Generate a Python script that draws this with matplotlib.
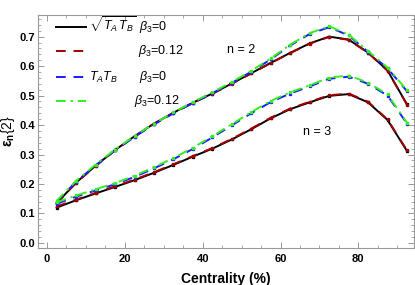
import matplotlib
matplotlib.use("Agg")
import matplotlib.pyplot as plt
from matplotlib.ticker import MultipleLocator

centrality = [2.5, 7.5, 12.5, 17.5, 22.5, 27.5, 32.5, 37.5, 42.5, 47.5,
              52.5, 57.5, 62.5, 67.5, 72.5, 77.5, 82.5, 87.5, 92.5]

# n = 2
e2_sqrt_b0 = [0.135, 0.205, 0.262, 0.315, 0.362, 0.405, 0.442, 0.476, 0.507, 0.541,
              0.576, 0.611, 0.645, 0.677, 0.700, 0.690, 0.646, 0.585, 0.470]
e2_sqrt_b12 = [0.134, 0.204, 0.261, 0.314, 0.361, 0.404, 0.441, 0.475, 0.506, 0.540,
               0.575, 0.610, 0.644, 0.676, 0.699, 0.689, 0.645, 0.584, 0.469]
e2_prod_b0 = [0.140, 0.208, 0.263, 0.314, 0.360, 0.402, 0.440, 0.475, 0.508, 0.543,
              0.581, 0.623, 0.670, 0.709, 0.732, 0.704, 0.648, 0.592, 0.515]
e2_prod_b12 = [0.143, 0.211, 0.266, 0.317, 0.363, 0.405, 0.443, 0.478, 0.511, 0.546,
               0.584, 0.626, 0.673, 0.712, 0.735, 0.707, 0.651, 0.595, 0.518]

# n = 3
e3_sqrt_b0 = [0.120, 0.145, 0.168, 0.190, 0.213, 0.238, 0.265, 0.293, 0.320, 0.351,
              0.386, 0.423, 0.454, 0.477, 0.499, 0.505, 0.477, 0.417, 0.312]
e3_sqrt_b12 = [0.124, 0.147, 0.170, 0.192, 0.215, 0.240, 0.267, 0.295, 0.322, 0.353,
               0.388, 0.425, 0.456, 0.479, 0.501, 0.507, 0.479, 0.419, 0.314]
e3_prod_b0 = [0.133, 0.157, 0.178, 0.199, 0.224, 0.253, 0.284, 0.319, 0.358, 0.399,
              0.440, 0.478, 0.507, 0.531, 0.557, 0.564, 0.540, 0.500, 0.405]
e3_prod_b12 = [0.138, 0.161, 0.182, 0.203, 0.228, 0.257, 0.288, 0.323, 0.362, 0.403,
               0.444, 0.482, 0.511, 0.535, 0.561, 0.568, 0.544, 0.504, 0.408]

legend_names = [r'$\sqrt{T_A\,T_B}$', ' ', r'$T_AT_B$', ' ']
beta_labels = [r'$\beta_3$=0', r'$\beta_3$=0.12', r'$\beta_3$=0', r'$\beta_3$=0.12']
beta_x = [0.268, 0.265, 0.268, 0.255]

BLACK = "#000000"
RED = "#a00000"
BLUE = "#1a1aff"
GREEN = "#33ee22"

plt.rcParams['font.family'] = ['Liberation Sans', 'DejaVu Sans']
plt.rcParams['mathtext.fontset'] = 'custom'
plt.rcParams['mathtext.it'] = 'Liberation Sans:italic'
plt.rcParams['mathtext.rm'] = 'Liberation Sans'
plt.rcParams['mathtext.bf'] = 'Liberation Sans:bold'

fig = plt.figure(figsize=(4.15, 2.85), dpi=100)
ax = fig.add_axes([0.0916, 0.13, 0.906, 0.817])

lw = 1.4
ms = 1.4
DASH = (0, (5, 4))
DASHDOT = (0, (5, 2.5, 1.2, 2.5))
h1, = ax.plot(centrality, e2_sqrt_b0, color=BLACK, lw=lw, marker='s', ms=ms)
h2, = ax.plot(centrality, e2_sqrt_b12, color=RED, lw=lw, ls=DASH, marker='s', ms=ms)
h3, = ax.plot(centrality, e2_prod_b0, color=BLUE, lw=lw, ls=DASH, marker='s', ms=ms)
h4, = ax.plot(centrality, e2_prod_b12, color=GREEN, lw=lw, ls=DASHDOT, marker='s', ms=ms)

ax.plot(centrality, e3_sqrt_b0, color=BLACK, lw=lw, marker='s', ms=ms)
ax.plot(centrality, e3_sqrt_b12, color=RED, lw=lw, ls=DASH, marker='s', ms=ms)
ax.plot(centrality, e3_prod_b0, color=BLUE, lw=lw, ls=DASH, marker='s', ms=ms)
ax.plot(centrality, e3_prod_b12, color=GREEN, lw=lw, ls=DASHDOT, marker='s', ms=ms)

ax.set_xlim(-2.3, 94.3)
ax.set_ylim(-0.017, 0.773)

ax.xaxis.set_major_locator(MultipleLocator(20))
ax.xaxis.set_minor_locator(MultipleLocator(5))
ax.yaxis.set_minor_locator(MultipleLocator(0.02))
ax.set_yticks([i / 10 for i in range(8)])
ax.set_yticklabels([f"{i/10:.1f}" for i in range(8)])

ax.tick_params(which='both', direction='in', top=True, right=True, color='#888888',
               labelsize=8)
ax.tick_params(axis='x', pad=4)
ax.tick_params(axis='y', pad=2)
ax.tick_params(which='major', length=4, width=0.6)
ax.tick_params(which='minor', length=2, width=0.5)
for lab in ax.get_xticklabels() + ax.get_yticklabels():
    lab.set_fontweight('bold')
for sp in ax.spines.values():
    sp.set_color('#999999')
    sp.set_linewidth(0.8)

ax.set_xlabel('Centrality (%)', fontsize=10, fontweight='bold', labelpad=6)
ax.set_ylabel(r'$\mathbf{\epsilon_n}$' + r'$\{2\}$', fontsize=10, fontweight='bold')
ax.yaxis.set_label_coords(-0.055, 0.5)

leg = ax.legend([h1, h2, h3, h4], legend_names, loc='upper left', frameon=False,
                fontsize=9, handlelength=2.4, labelspacing=0.9,
                bbox_to_anchor=(0.035, 1.02), borderaxespad=0.0, handletextpad=0.2)
for lh in leg.legend_handles:
    lh.set_marker('')

fig.canvas.draw()
renderer = fig.canvas.get_renderer()
inv = ax.transAxes.inverted()
for lh, bl, bx in zip(leg.legend_handles, beta_labels, beta_x):
    bb = lh.get_window_extent(renderer)
    yc = inv.transform((0, (bb.y0 + bb.y1) / 2))[1]
    ax.text(bx, yc, bl, transform=ax.transAxes, fontsize=9, ha='left', va='center')

ax.text(50, 0.655, 'n = 2', fontsize=9, ha='center', va='center')
ax.text(69.4, 0.376, 'n = 3', fontsize=9, ha='center', va='center')

fig.savefig('out.png', dpi=100)
